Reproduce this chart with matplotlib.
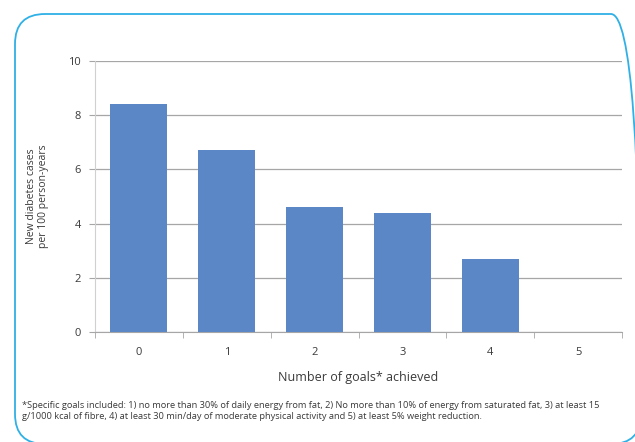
import matplotlib
matplotlib.use("Agg")
import matplotlib.pyplot as plt
from matplotlib.patches import FancyBboxPatch

plt.rcParams['font.family'] = ['Open Sans', 'DejaVu Sans']

# data
goals = ['0', '1', '2', '3', '4', '5']
cases = [8.4, 6.7, 4.6, 4.4, 2.7, 0.0]
y_ticks = [0, 2, 4, 6, 8, 10]

bar_color = '#5b87c6'
grid_color = '#a6a6a6'
text_color = '#3a3a3a'

fig = plt.figure(figsize=(6.35, 4.42), dpi=100)

# rounded cyan frame (just runs off the right and bottom edges)
frame = FancyBboxPatch((15, -2), 626, 430, boxstyle="round,pad=0,rounding_size=30",
                       transform=None, fill=False, edgecolor='#2fb0e6', linewidth=1.3)
fig.patches.append(frame)

ax = fig.add_axes([95 / 635, 1 - 332 / 442, (622 - 95) / 635, (332 - 61) / 442])

x = list(range(len(goals)))
ax.bar(x, cases, width=0.65, color=bar_color, zorder=3)

ax.set_xlim(-0.5, len(goals) - 0.5)
ax.set_ylim(0, 10)
ax.set_yticks(y_ticks)
ax.set_yticklabels([str(v) for v in y_ticks], fontsize=8, color=text_color)
ax.set_xticks(x)
ax.set_xticklabels(goals, fontsize=8, color=text_color)
ax.set_xticks([i - 0.5 for i in range(len(goals) + 1)], minor=True)
ax.tick_params(axis='x', which='major', length=0, pad=11)
ax.tick_params(axis='x', which='minor', length=4, color=grid_color, direction='out')
ax.tick_params(axis='y', length=4, color=grid_color, pad=6)

ax.grid(axis='y', color=grid_color, linewidth=0.9, zorder=0)
for side in ['top', 'right']:
    ax.spines[side].set_visible(False)
ax.spines['left'].set_color('#d0d0d0')
ax.spines['bottom'].set_color(grid_color)

ax.set_xlabel('Number of goals* achieved', fontsize=9, color=text_color, labelpad=9)
ax.set_ylabel('New diabetes cases\nper 100 person-years', fontsize=7.5, color=text_color,
              labelpad=14, linespacing=1.1)

footnote = ("*Specific goals included: 1) no more than 30% of daily energy from fat, 2) No more than 10% "
            "of energy from saturated fat, 3) at least 15\n"
            "g/1000 kcal of fibre, 4) at least 30 min/day of moderate physical activity and 5) at least "
            "5% weight reduction.")
fig.text(22 / 635, 1 - 401 / 442, footnote, fontsize=6.7, color=text_color, va='top',
         ha='left', linespacing=1.3)

fig.savefig('out.png', dpi=100, facecolor='white')
